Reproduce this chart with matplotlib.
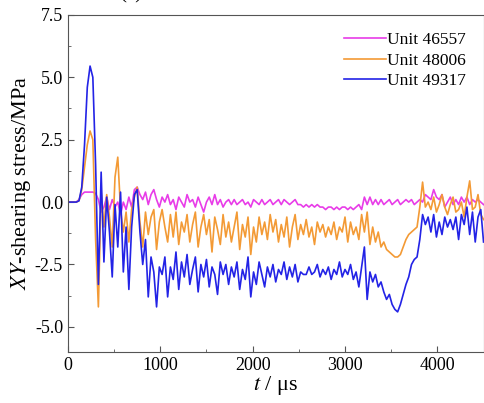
import matplotlib
matplotlib.use("Agg")
import matplotlib.pyplot as plt
from matplotlib.ticker import MultipleLocator

plt.rcParams['font.family'] = ['Liberation Serif', 'DejaVu Serif']
plt.rcParams['mathtext.fontset'] = 'stix'

# time grid, 30 us steps
t_us = list(range(0, 4501, 30))

unit_46557 = [
    0, 0, 0, 0, 0.1, 0.3, 0.4, 0.4, 0.4, 0.4,
    0.35, 0.1, -0.4, -0.2, 0.2, -0.3, 0.1, -0.2, 0.0, -0.5,
    0.0, -0.3, 0.2, -0.2, 0.5, 0.6, 0.3, 0.1, 0.4, -0.1,
    0.3, 0.5, 0.1, -0.2, 0.2, 0.0, 0.3, -0.1, 0.1, -0.3,
    0.2, 0.0, -0.2, 0.3, 0.0, 0.1, -0.2, 0.2, -0.1, -0.4,
    0.0, 0.2, -0.1, 0.3, -0.1, 0.1, -0.2, 0.0, 0.1, -0.1,
    0.1, -0.1, 0.0, 0.1, -0.1, 0.0, -0.2, 0.1, 0.0, -0.1,
    0.1, -0.1, 0.0, 0.1, -0.1, 0.0, 0.1, -0.1, 0.1, 0.0,
    -0.1, 0.0, 0.1, -0.1, -0.1, -0.2, -0.1, -0.2, -0.1, -0.2,
    -0.1, -0.2, -0.2, -0.3, -0.2, -0.2, -0.3, -0.2, -0.3, -0.2,
    -0.2, -0.3, -0.2, -0.3, -0.2, -0.1, -0.3, 0.2, -0.1, 0.2,
    -0.1, 0.1, -0.1, 0.1, -0.1, 0.0, 0.1, -0.1, 0.0, 0.1,
    -0.1, 0.0, 0.1, 0.0, 0.1, -0.1, 0.0, 0.1, 0.0, 0.3,
    0.2, 0.1, 0.5, 0.2, 0.1, 0.3, -0.2, 0.0, 0.2, -0.1,
    0.1, -0.1, 0.2, 0.0, 0.2, -0.1, 0.1, 0.0, 0.1, 0.0,
    -0.1,
]

unit_48006 = [
    0, 0, 0, 0, 0.05, 0.5, 1.4, 2.3, 2.85, 2.5,
    -1.5, -4.2, 0.4, -1.0, 0.3, -0.6, -1.8, 1.0, 1.8, -0.3,
    -1.2, -0.4, -1.6, -0.3, 0.2, 0.6, -0.8, -1.8, -0.4, -1.3,
    -0.6, -0.3, -1.9, -0.8, -0.3, -1.0, -1.6, -0.5, -1.4, -0.4,
    -1.7, -0.8, -1.2, -0.5, -1.6, -0.9, -0.4, -1.8, -1.0, -0.5,
    -1.3, -0.7, -2.0, -0.6, -1.1, -1.7, -0.5, -1.4, -0.8, -1.6,
    -1.0, -0.4, -1.9, -0.9, -1.4, -0.6, -2.1, -1.0, -1.6, -0.6,
    -1.3, -0.8, -1.5, -0.5, -1.2, -0.7, -1.6, -0.9, -1.4, -0.6,
    -1.8, -1.0, -0.5, -1.5, -0.9, -1.3, -0.7, -1.4, -1.0, -1.7,
    -0.8, -1.2, -0.9, -1.4, -1.0, -1.3, -0.8, -1.5, -1.0, -1.2,
    -0.6, -1.6, -0.8, -1.3, -1.0, -1.5, -0.5, -1.2, -0.4, -1.7,
    -1.0, -1.6, -1.2, -1.8, -1.6, -1.9, -2.0, -2.1, -2.2, -2.2,
    -2.1, -1.8, -1.5, -1.3, -1.2, -1.1, -1.0, -0.2, 0.8, -0.2,
    0.0, -0.3, 0.2, -0.4, -0.1, 0.3, -0.2, -0.5, -0.1, 0.2,
    -0.4, -0.3, 0.0, -0.6, 0.2, 0.85, -0.3, -0.2, 0.3, -0.5,
    -0.7,
]

unit_49317 = [
    0, 0, 0, 0, 0.05, 0.6, 2.3, 4.6, 5.45, 5.0,
    1.5, -3.3, 1.2, -2.4, 0.2, -1.2, -3.0, -0.1, -1.8, 0.4,
    -2.8, -1.0, -3.5, -1.0, 0.3, 0.5, -1.2, -2.5, -1.5, -3.8,
    -2.2, -2.8, -4.2, -2.6, -2.9, -2.2, -3.8, -2.6, -3.1, -2.0,
    -3.5, -2.4, -3.0, -2.1, -3.3, -2.7, -2.2, -3.6, -2.5, -3.0,
    -2.3, -3.4, -2.6, -2.9, -3.7, -2.4, -2.9, -2.5, -3.3, -2.6,
    -3.0, -2.4, -3.5, -2.7, -3.1, -2.2, -3.8, -2.8, -3.3, -2.4,
    -2.9, -3.4, -2.6, -3.0, -2.5, -3.2, -2.7, -2.9, -2.4, -3.1,
    -2.6, -3.0, -2.5, -3.2, -2.8, -2.9, -2.9, -2.6, -2.9, -2.8,
    -2.5, -3.0, -2.7, -2.9, -2.6, -3.1, -2.7, -2.9, -2.4, -3.0,
    -2.7, -2.9, -2.5, -3.1, -2.8, -3.4, -2.6, -1.8, -3.9, -2.8,
    -3.2, -2.9, -3.4, -3.2, -3.6, -3.9, -3.7, -4.1, -4.3, -4.4,
    -4.1, -3.7, -3.3, -3.0, -2.5, -2.3, -2.2, -1.5, -0.5, -0.9,
    -0.6, -1.2, -0.5, -1.4, -0.8, -1.3, -0.6, -1.0, -0.7, -1.1,
    -0.6, -1.5, -0.5, -0.9, -0.2, -1.3, -0.4, -1.6, -0.6, -0.3,
    -1.6,
]

series = [
    ("Unit 46557", unit_46557, "#e83ce8"),
    ("Unit 48006", unit_48006, "#f39a35"),
    ("Unit 49317", unit_49317, "#2323e6"),
]

fig = plt.figure(figsize=(4.85, 4.03), dpi=100)
ax = fig.add_axes([0.140, 0.127, 0.857, 0.836])

for label, vals, color in series:
    ax.plot(t_us, vals, color=color, lw=1.2, label=label)

ax.set_xlim(0, 4500)
ax.set_ylim(-6.0, 7.5)
ax.xaxis.set_major_locator(MultipleLocator(1000))
ax.xaxis.set_minor_locator(MultipleLocator(500))
ax.yaxis.set_major_locator(MultipleLocator(2.5))
ax.yaxis.set_minor_locator(MultipleLocator(1.25))
ax.yaxis.set_major_formatter(plt.FormatStrFormatter('%.1f'))
ax.tick_params(which='both', direction='in', labelsize=13, color='#555555')
ax.tick_params(which='major', length=4)
ax.tick_params(which='minor', length=2)
for sp in ax.spines.values():
    sp.set_color('#555555')

ax.set_xlabel(r"$t$ / μs", fontsize=16, labelpad=0)
ax.set_ylabel(r"$XY$-shearing stress/MPa", fontsize=16)
ax.yaxis.set_label_coords(-0.085, 0.5)

ax.legend(loc='upper right', frameon=False, fontsize=12.5, handlelength=2.4,
          handletextpad=0.1, labelspacing=0.25, borderaxespad=0.6)

# panel tag, cut off at the top edge like the original
fig.text(0.27, 1.015, "(a)", fontsize=15, ha='center', va='center')

fig.savefig("out.png", dpi=100)
